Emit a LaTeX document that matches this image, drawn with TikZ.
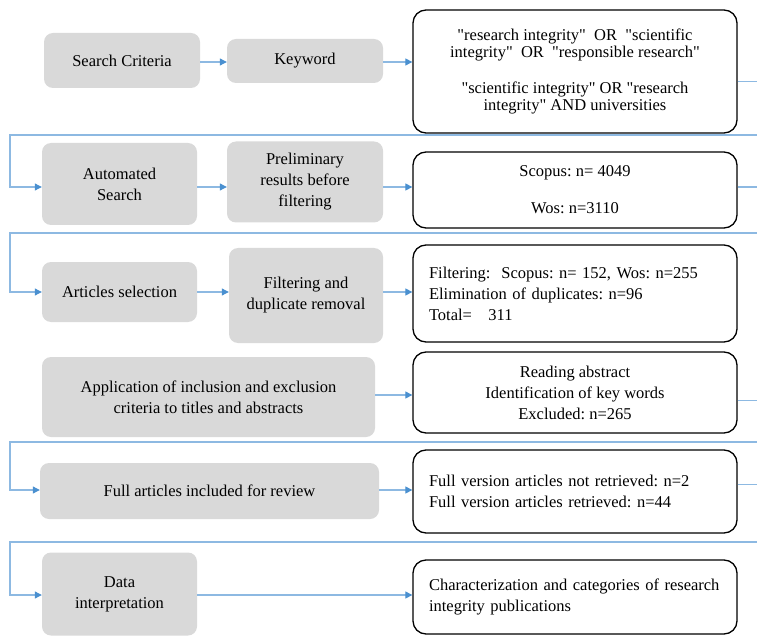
\documentclass[tikz,border=0pt]{standalone}
\usepackage{fontspec}
\setmainfont{Liberation Serif}[Ligatures=TeXOff]
\usepackage{tikz}
\usetikzlibrary{arrows.meta}
\definecolor{boxgray}{HTML}{D9D9D9}
\definecolor{headblue}{HTML}{4A90D0}
\definecolor{lineblue}{HTML}{8DB9E2}
\frenchspacing

\begin{document}
\begin{tikzpicture}[x=1pt,y=-1pt,
			every node/.style={font=\fontsize{16.5}{21}\selectfont,align=center,inner sep=4pt},
			graybox/.style={fill=boxgray,rounded corners=9pt},
			outbox/.style={draw=black,line width=1.3pt,rounded corners=13pt,fill=white},
			leftbox/.style={outbox,align=left,inner xsep=16pt,text width=292pt},
			arr/.style={draw=lineblue,line width=1.1pt,-{Triangle[length=7pt,width=7pt,color=headblue]}},
			feed/.style={draw=lineblue,line width=1.1pt}]
			\useasboundingbox (0,0) rectangle (757,636);
			
			\coordinate (row1) at (0,62);
			\coordinate (row2) at (0,187);
			\coordinate (row3) at (0,292);
			\coordinate (row4) at (0,395);
			\coordinate (row5) at (0,490);
			\coordinate (row6) at (0,595);
			
			% left column
			\node[graybox,minimum width=156pt,minimum height=55pt] (sc) at (122,60.5) {Search Criteria};
			\node[graybox,minimum width=156pt,minimum height=44pt] (kw) at (305,61) {Keyword};
			\node[graybox,minimum width=155pt,minimum height=82pt] (as) at (119.5,184) {Automated\\Search};
			\node[graybox,minimum width=156pt,minimum height=81pt] (pr) at (305,182) {Preliminary\\results before\\filtering};
			\node[graybox,minimum width=155pt,minimum height=60pt] (asel) at (119.5,292) {Articles selection};
			\node[graybox,minimum width=154pt,minimum height=95pt] (fd) at (306,295.5) {Filtering and\\duplicate removal};
			\node[graybox,minimum width=333pt,minimum height=80pt] (app) at (208.5,397) {Application of inclusion and exclusion\\criteria to titles and abstracts};
			\node[graybox,minimum width=339pt,minimum height=56pt] (fa) at (209.5,491) {Full articles included for review};
			\node[graybox,minimum width=155pt,minimum height=83pt] (di) at (119.5,594) {Data\\interpretation};
			
			% right column
			\node[outbox,minimum width=324pt,minimum height=123pt,font=\fontsize{16.5}{17}\selectfont] (q) at (575,71.5)
				{"research integrity"\ \ OR\ \ "scientific\\integrity"\ \ OR\ \ "responsible research"\\[19pt]"scientific integrity" OR "research\\integrity" AND universities};
			\node[outbox,minimum width=324pt,minimum height=76pt,font=\fontsize{16.5}{37}\selectfont] (r2) at (575,190) {Scopus: n= 4049\\Wos: n=3110};
			\node[leftbox,minimum height=97pt] (r3) at (575,293.5) {Filtering:\ \ Scopus: n= 152, Wos: n=255\\Elimination of duplicates: n=96\\Total=\ \ \ 311};
			\node[outbox,minimum width=324pt,minimum height=81pt] (r4) at (575,392.5) {Reading abstract\\Identification of key words\\Excluded: n=265};
			\node[leftbox,minimum height=83pt] (r5) at (575,491.5) {Full version articles not retrieved: n=2\\Full version articles retrieved: n=44};
			\node[leftbox,minimum height=74pt] (r6) at (575,597) {Characterization and categories of research\\integrity publications};
			
			\draw[arr] (sc.east |- row1) -- (kw.west |- row1);
			\draw[arr] (kw.east |- row1) -- (q.west |- row1);
			\draw[arr] (as.east |- row2) -- (pr.west |- row2);
			\draw[arr] (pr.east |- row2) -- (r2.west |- row2);
			\draw[arr] (asel.east |- row3) -- (fd.west |- row3);
			\draw[arr] (fd.east |- row3) -- (r3.west |- row3);
			\draw[arr] (app.east |- row4) -- (r4.west |- row4);
			\draw[arr] (fa.east |- row5) -- (r5.west |- row5);
			\draw[arr] (di.east |- row6) -- (r6.west |- row6);
			
			\draw[feed] ([yshift=-10pt]q.east) -- ++(20,0);
			\draw[feed] (r2.east |- row2) -- ++(20,0);
			\draw[feed] ([yshift=-8pt]r4.east) -- ++(20,0);
			\draw[feed] ([yshift=7pt]r5.east) -- ++(20,0);
			\foreach \yb/\tgt/\row in {135/as/row2,233/asel/row3,442/fa/row5,542/di/row6}
				\draw[arr] (757,\yb) -- (10,\yb) |- (\tgt.west |- \row);
		\end{tikzpicture}
\end{document}
